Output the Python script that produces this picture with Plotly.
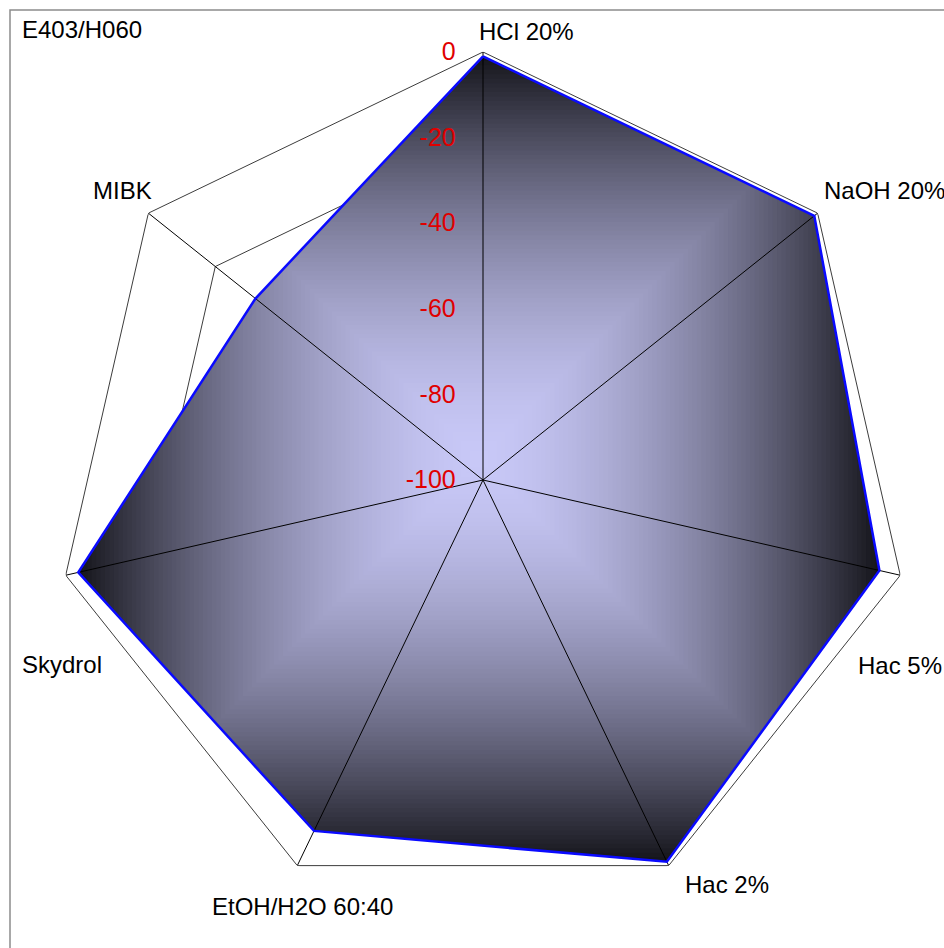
import math
import plotly.graph_objects as go

# ---- data ----
categories = ["HCl 20%", "NaOH 20%", "Hac 5%", "Hac 2%", "EtOH/H2O 60:40", "Skydrol", "MIBK"]
values = [-1, -1, -5, -1, -9, -3, -32]
radial_ticks = [-100, -80, -60, -40, -20, 0]
radial_tick_labels = [str(v) for v in radial_ticks]
chart_title = "E403/H060"

# ---- geometry / style ----
W, H = 944, 948
CX, CY, RAD = 483, 480, 428          # pixel centre and radius of the polar area
R_MIN, R_MAX = radial_ticks[0], radial_ticks[-1]
FONT = "Liberation Sans, Arial, sans-serif"
C_CENTER = (200, 200, 247)          # gradient colour at the centre of the fill
C_EDGE = (22, 22, 28)               # gradient colour at the edge of the fill
GAMMA = 1.65
LEVELS = 90

n = len(categories)
angles = [i * 360.0 / n for i in range(n)]


def to_xy(r, th):
    rho = (r - R_MIN) / (R_MAX - R_MIN)
    a = math.radians(th)
    return rho * math.sin(a), rho * math.cos(a)


def to_polar(x, y):
    rho = math.hypot(x, y)
    return R_MIN + rho * (R_MAX - R_MIN), math.degrees(math.atan2(x, y)) % 360


def clip_rect(poly, x0, x1, y0, y1):
    """Sutherland-Hodgman clip of a polygon against an axis-aligned box."""
    def clip(pts, inside, inter):
        out = []
        for i in range(len(pts)):
            cur, prev = pts[i], pts[i - 1]
            if inside(cur):
                if not inside(prev):
                    out.append(inter(prev, cur))
                out.append(cur)
            elif inside(prev):
                out.append(inter(prev, cur))
        return out

    def ix(xc):
        return lambda p, q: (xc, p[1] + (q[1] - p[1]) * (xc - p[0]) / (q[0] - p[0]))

    def iy(yc):
        return lambda p, q: (p[0] + (q[0] - p[0]) * (yc - p[1]) / (q[1] - p[1]), yc)

    pts = list(poly)
    for inside, inter in [
        (lambda p: p[0] >= x0, ix(x0)),
        (lambda p: p[0] <= x1, ix(x1)),
        (lambda p: p[1] >= y0, iy(y0)),
        (lambda p: p[1] <= y1, iy(y1)),
    ]:
        if not pts:
            break
        pts = clip(pts, inside, inter)
    return pts


def lerp_color(t):
    f = t ** GAMMA
    c = [round(a + (b - a) * f) for a, b in zip(C_CENTER, C_EDGE)]
    return "rgb(%d,%d,%d)" % tuple(c)


fig = go.Figure()

# radial grid polygons (hidden under the fill where covered)
for tv in radial_ticks[1:]:
    fig.add_trace(go.Scatterpolar(
        r=[tv] * n + [tv], theta=angles + [angles[0]], mode="lines",
        line=dict(color="#3c3c3c", width=1), hoverinfo="skip", showlegend=False))

# filled series with a rectangular gradient: nested clips of the series polygon
poly = [to_xy(v, a) for v, a in zip(values, angles)]
xs = [p[0] for p in poly]
ys = [p[1] for p in poly]
gx, gy = (min(xs) + max(xs)) / 2, (min(ys) + max(ys)) / 2
hw, hh = (max(xs) - min(xs)) / 2, (max(ys) - min(ys)) / 2
for i in range(LEVELS):
    t = 1.0 - i / LEVELS
    pts = clip_rect(poly, gx - t * hw, gx + t * hw, gy - t * hh, gy + t * hh)
    if len(pts) < 3:
        continue
    pol = [to_polar(x, y) for x, y in pts]
    rr = [p[0] for p in pol] + [pol[0][0]]
    tt = [p[1] for p in pol] + [pol[0][1]]
    fig.add_trace(go.Scatterpolar(
        r=rr, theta=tt, mode="lines", fill="toself",
        fillcolor=lerp_color(t), line=dict(width=0, color=lerp_color(t)),
        hoverinfo="skip", showlegend=False))

# spokes
sr, st = [], []
for a in angles:
    sr += [R_MIN, R_MAX, None]
    st += [a, a, None]
fig.add_trace(go.Scatterpolar(
    r=sr, theta=st, mode="lines", line=dict(color="#000000", width=1),
    hoverinfo="skip", showlegend=False, connectgaps=False))

# series outline
fig.add_trace(go.Scatterpolar(
    r=values + [values[0]], theta=angles + [angles[0]], mode="lines",
    line=dict(color="#0a0aff", width=2.5), name=chart_title,
    text=categories + [categories[0]], hoverinfo="text+r", showlegend=False))

# category labels beside each outer vertex
label_offsets = {
    "HCl 20%": (-6, -21),
    "NaOH 20%": (4, -23),
    "Hac 5%": (-44, 90),
    "Hac 2%": (14, 19),
    "EtOH/H2O 60:40": (-87, 41),
    "Skydrol": (-46, 89),
    "MIBK": (-57, -23),
}
annotations = []
for cat, a in zip(categories, angles):
    vx = CX + RAD * math.sin(math.radians(a))
    vy = CY - RAD * math.cos(math.radians(a))
    dx, dy = label_offsets[cat]
    annotations.append(dict(
        text=cat, x=vx / W, y=1 - vy / H, xref="paper", yref="paper",
        xanchor="left", yanchor="middle", xshift=dx, yshift=-dy,
        showarrow=False, font=dict(family=FONT, size=24, color="#000000")))

annotations.append(dict(
    text=chart_title, x=20 / W, y=1 - 30 / H, xref="paper", yref="paper",
    xanchor="left", yanchor="middle", showarrow=False,
    font=dict(family=FONT, size=24, color="#000000")))

fig.update_layout(
    width=W, height=H,
    margin=dict(l=0, r=0, t=0, b=0),
    paper_bgcolor="white",
    showlegend=False,
    annotations=annotations,
    shapes=[dict(type="rect", xref="paper", yref="paper",
                 x0=10 / W, x1=1.05, y0=-0.05, y1=1 - 10 / H,
                 line=dict(color="#8c8c8c", width=1.5), layer="below")],
    polar=dict(
        domain=dict(x=[(CX - RAD) / W, (CX + RAD) / W],
                    y=[(H - CY - RAD) / H, (H - CY + RAD) / H]),
        bgcolor="rgba(0,0,0,0)",
        angularaxis=dict(type="linear", direction="clockwise", rotation=90,
                         thetaunit="degrees", showgrid=False, showline=False,
                         showticklabels=False, ticks=""),
        radialaxis=dict(range=[R_MIN, R_MAX], tickvals=radial_ticks,
                        ticktext=radial_tick_labels,
                        angle=90, tickangle=90, side="counterclockwise",
                        showgrid=False, showline=False,
                        ticks="outside", ticklen=18, tickcolor="rgba(0,0,0,0)",
                        tickfont=dict(family=FONT, size=25, color="#e00000"),
                        layer="above traces"),
    ),
)

fig.write_html("out.html")
